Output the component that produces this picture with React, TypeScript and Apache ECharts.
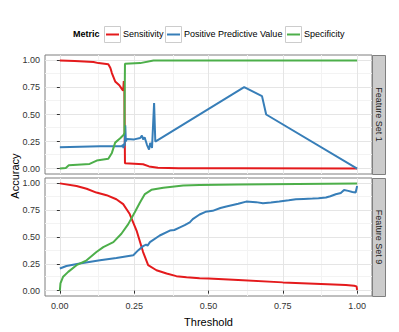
import React, { useEffect, useRef } from "react";
import * as echarts from "echarts";

type Pt = [number, number];

const metrics = ["Sensitivity", "Positive Predictive Value", "Specificity"];
const metricColors = ["#E41A1C", "#377EB8", "#4DAF4A"];
const panels = ["Feature Set 1", "Feature Set 9"];
const tickValues = [0, 0.25, 0.5, 0.75, 1];
const minorValues = [0.125, 0.375, 0.625, 0.875];

const fs1Sensitivity: Pt[] = [
  [0, 1.0], [0.05, 0.995], [0.113, 0.985], [0.13, 0.975], [0.163, 0.965], [0.17, 0.93],
  [0.175, 0.883], [0.186, 0.806], [0.2, 0.77], [0.21, 0.73], [0.213, 0.72], [0.215, 0.81],
  [0.217, 0.72], [0.219, 0.05], [0.25, 0.045], [0.28, 0.04], [0.3, 0.02], [0.33, 0.008],
  [0.4, 0.003], [0.6, 0.002], [1.0, 0],
];
const fs1PPV: Pt[] = [
  [0, 0.197], [0.135, 0.206], [0.208, 0.206], [0.212, 0.22], [0.214, 0.19], [0.216, 0.23],
  [0.218, 0.21], [0.22, 0.4], [0.222, 0.25], [0.225, 0.274], [0.25, 0.27], [0.27, 0.283],
  [0.276, 0.305], [0.28, 0.27], [0.285, 0.29], [0.293, 0.22], [0.3, 0.175], [0.304, 0.237],
  [0.31, 0.19], [0.317, 0.606], [0.321, 0.25], [0.62, 0.753], [0.68, 0.67], [0.694, 0.5],
  [1.0, 0],
];
const fs1Specificity: Pt[] = [
  [0, 0], [0.02, 0.005], [0.03, 0.03], [0.1, 0.043], [0.124, 0.074], [0.163, 0.09],
  [0.175, 0.145], [0.186, 0.24], [0.203, 0.28], [0.214, 0.31], [0.217, 0.33], [0.219, 0.97],
  [0.27, 0.975], [0.315, 1.0], [1.0, 1.0],
];

const fs9Sensitivity: Pt[] = [
  [0, 1.0], [0.056, 0.975], [0.09, 0.95], [0.123, 0.914], [0.157, 0.89], [0.19, 0.852],
  [0.213, 0.806], [0.235, 0.714], [0.258, 0.56], [0.28, 0.36], [0.297, 0.237], [0.325, 0.19],
  [0.359, 0.16], [0.392, 0.135], [0.426, 0.125], [0.47, 0.116], [0.5, 0.114], [0.6, 0.1],
  [0.75, 0.077], [0.9, 0.06], [0.962, 0.052], [0.99, 0.046], [0.998, 0.04], [1.0, 0.006],
];
const fs9PPV: Pt[] = [
  [0, 0.206], [0.022, 0.23], [0.067, 0.252], [0.135, 0.283], [0.19, 0.305], [0.247, 0.33],
  [0.263, 0.375], [0.28, 0.415], [0.29, 0.43], [0.295, 0.42], [0.303, 0.452], [0.336, 0.514],
  [0.37, 0.56], [0.385, 0.565], [0.404, 0.59], [0.42, 0.61], [0.437, 0.637], [0.447, 0.667],
  [0.47, 0.71], [0.49, 0.735], [0.514, 0.744], [0.54, 0.77], [0.56, 0.785], [0.6, 0.81],
  [0.627, 0.83], [0.66, 0.825], [0.683, 0.815], [0.71, 0.822], [0.738, 0.83], [0.77, 0.842],
  [0.794, 0.852], [0.82, 0.855], [0.85, 0.858], [0.87, 0.862], [0.895, 0.868], [0.91, 0.88],
  [0.928, 0.898], [0.945, 0.91], [0.956, 0.938], [0.97, 0.93], [0.984, 0.92], [0.995, 0.914],
  [1.0, 0.975],
];
const fs9Specificity: Pt[] = [
  [0, 0], [0.002, 0.068], [0.011, 0.13], [0.028, 0.175], [0.056, 0.237], [0.09, 0.283],
  [0.123, 0.36], [0.146, 0.406], [0.18, 0.452], [0.207, 0.53], [0.23, 0.62], [0.252, 0.73],
  [0.269, 0.82], [0.286, 0.9], [0.308, 0.94], [0.348, 0.96], [0.415, 0.98], [0.47, 0.985],
  [0.6, 0.99], [0.8, 0.995], [1.0, 0.998],
];

const panelData: Pt[][][] = [
  [fs1Sensitivity, fs1PPV, fs1Specificity],
  [fs9Sensitivity, fs9PPV, fs9Specificity],
];

const FONT = "Liberation Sans, Arial, sans-serif";

export default function App() {
  const ref = useRef<HTMLDivElement>(null);
  useEffect(() => {
    if (!ref.current) return;
    const chart = echarts.init(ref.current, undefined, { renderer: "svg" });

    const grids = [
      { left: 45, top: 55, width: 327, height: 119 },
      { left: 45, top: 178, width: 327, height: 118 },
    ];

    const series: any[] = [];
    panels.forEach((_, gi) => {
      series.push({
        type: "line",
        xAxisIndex: gi,
        yAxisIndex: gi,
        data: [[-1, -1]],
        showSymbol: false,
        silent: true,
        z: 0,
        markLine: {
          silent: true,
          z: 0,
          symbol: ["none", "none"],
          label: { show: false },
          animation: false,
          data: [
            ...minorValues.map((v) => ({ xAxis: v, lineStyle: { color: "#F3F3F3", width: 1, type: "solid" } })),
            ...minorValues.map((v) => ({ yAxis: v, lineStyle: { color: "#F3F3F3", width: 1, type: "solid" } })),
            ...tickValues.map((v) => ({ xAxis: v, lineStyle: { color: "#E5E5E5", width: 1, type: "solid" } })),
            ...tickValues.map((v) => ({ yAxis: v, lineStyle: { color: "#E5E5E5", width: 1, type: "solid" } })),
          ],
        },
      });
      metrics.forEach((m, mi) => {
        series.push({
          name: m,
          type: "line",
          xAxisIndex: gi,
          yAxisIndex: gi,
          data: panelData[gi][mi],
          showSymbol: false,
          clip: false,
          z: 6,
          lineStyle: { color: metricColors[mi], width: 2 },
          itemStyle: { color: metricColors[mi] },
        });
      });
    });

    const xAxes = grids.map((_, gi) => ({
      type: "value",
      gridIndex: gi,
      min: -0.05,
      max: 1.05,
      axisLine: { show: false },
      splitLine: { show: false },
      axisTick: {
        show: gi === 1,
        customValues: tickValues,
        length: 3,
        lineStyle: { color: "#333333" },
      },
      axisLabel: {
        show: gi === 1,
        customValues: tickValues,
        formatter: (v: number) => v.toFixed(2),
        fontSize: 9,
        fontFamily: FONT,
        color: "#333333",
        margin: 5,
      },
      name: gi === 1 ? "Threshold" : "",
      nameLocation: "middle",
      nameGap: 20,
      nameTextStyle: { fontSize: 11, fontFamily: FONT, color: "#000" },
    }));

    const yAxes = grids.map((_, gi) => ({
      type: "value",
      gridIndex: gi,
      min: -0.05,
      max: 1.05,
      axisLine: { show: false },
      splitLine: { show: false },
      axisTick: {
        show: true,
        customValues: tickValues,
        length: 3,
        lineStyle: { color: "#333333" },
      },
      axisLabel: {
        customValues: tickValues,
        formatter: (v: number) => v.toFixed(2),
        fontSize: 9,
        fontFamily: FONT,
        color: "#333333",
        margin: 5,
      },
    }));

    const legendGraphics: any[] = [];
    legendGraphics.push({
      type: "text",
      left: 73,
      top: 29,
      style: { text: "Metric", font: `bold 9px ${FONT}`, fill: "#000" },
    });
    const keyX = [104, 165, 285];
    metrics.forEach((m, mi) => {
      const x = keyX[mi];
      legendGraphics.push({
        type: "rect",
        shape: { x: x + 0.5, y: 26.5, width: 16, height: 16 },
        style: { fill: "#FFFFFF", stroke: "#CCCCCC", lineWidth: 1 },
      });
      legendGraphics.push({
        type: "line",
        shape: { x1: x + 2, y1: 34.5, x2: x + 15, y2: 34.5 },
        style: { stroke: metricColors[mi], lineWidth: 2 },
      });
      legendGraphics.push({
        type: "text",
        left: x + 19,
        top: 29,
        style: { text: m, font: `9px ${FONT}`, fill: "#000" },
      });
    });

    const stripGraphics: any[] = [];
    grids.forEach((g, gi) => {
      stripGraphics.push({
        type: "rect",
        shape: { x: g.left + g.width + 0.5, y: g.top + 0.5, width: 13, height: g.height },
        style: { fill: "#CCCCCC", stroke: "#7F7F7F", lineWidth: 1 },
      });
      stripGraphics.push({
        type: "text",
        x: g.left + g.width + 7,
        y: g.top + g.height / 2,
        rotation: -Math.PI / 2,
        style: {
          text: panels[gi],
          font: `9px ${FONT}`,
          fill: "#1A1A1A",
          align: "center",
          verticalAlign: "middle",
        },
      });
    });

    const option: any = {
      animation: false,
      backgroundColor: "#FFFFFF",
      grid: grids.map((g) => ({
        ...g,
        show: true,
        borderColor: "#7F7F7F",
        borderWidth: 1,
        backgroundColor: "transparent",
        containLabel: false,
      })),
      xAxis: xAxes,
      yAxis: yAxes,
      series,
      graphic: [
        ...legendGraphics,
        ...stripGraphics,
        {
          type: "text",
          x: 15,
          y: 176,
          rotation: Math.PI / 2,
          style: {
            text: "Accuracy",
            font: `11px ${FONT}`,
            fill: "#000",
            align: "center",
            verticalAlign: "middle",
          },
        },
      ],
    };
    chart.setOption(option);
    return () => chart.dispose();
  }, []);

  return (
    <div
      ref={ref}
      style={{ position: "fixed", left: 0, top: 0, width: 399, height: 332, background: "#fff" }}
    />
  );
}
